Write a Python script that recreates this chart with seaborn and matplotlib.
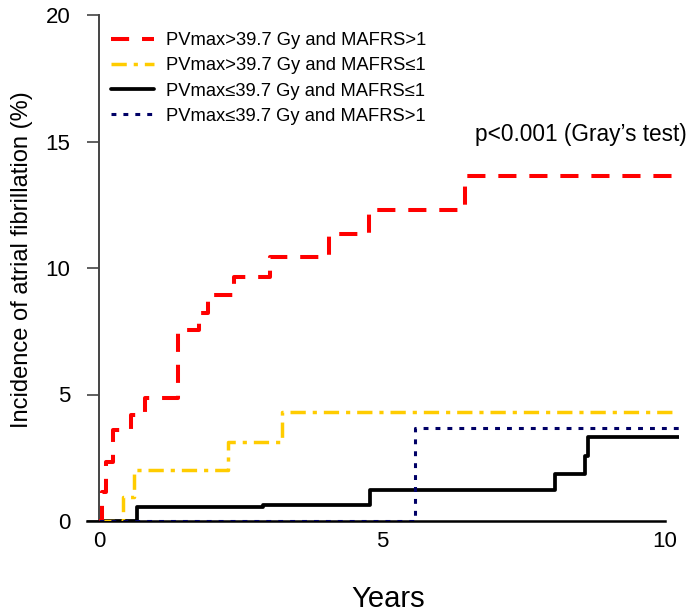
import numpy as np
import pandas as pd
import matplotlib
matplotlib.use("Agg")
import matplotlib.pyplot as plt
import seaborn as sns

# ---- data ----
labels = ["PVmax>39.7 Gy and MAFRS>1",
          "PVmax>39.7 Gy and MAFRS\u22641",
          "PVmax\u226439.7 Gy and MAFRS\u22641",
          "PVmax\u226439.7 Gy and MAFRS>1"]

red_t = [0.0, 0.06, 0.12, 0.24, 0.56, 0.82, 1.40, 1.76, 1.93, 2.38, 3.03, 4.07, 4.78, 6.47, 10.25]
red_y = [0.0, 1.15, 2.33, 3.6, 4.19, 4.86, 7.55, 8.22, 8.93, 9.64, 10.43, 11.34, 12.29, 13.64, 13.64]

yel_t = [0.0, 0.42, 0.61, 2.28, 3.23, 10.25]
yel_y = [0.0, 0.95, 2.0, 3.12, 4.31, 4.31]

blk_t = [0.0, 0.68, 2.89, 4.79, 8.05, 8.59, 8.64, 10.25]
blk_y = [0.0, 0.55, 0.63, 1.22, 1.86, 2.57, 3.33, 3.33]

nav_t = [0.0, 5.58, 10.25]
nav_y = [0.0, 3.66, 3.66]

colors = ["#ff0000", "#ffcc00", "#000000", "#000066"]
styles = [(0, (4.5, 3.2)), (0, (4.4, 2.0, 1.2, 2.0)), "-", (0, (1.6, 2.3))]
widths = [2.9, 2.5, 2.7, 2.2]
zorders = [4, 3, 3, 5]

sns.set_style("white")
plt.rcParams["font.family"] = ["Liberation Sans", "DejaVu Sans"]
plt.rcParams["text.color"] = "black"
plt.rcParams["axes.labelcolor"] = "black"
plt.rcParams["xtick.color"] = "black"
plt.rcParams["ytick.color"] = "black"

W, H = 689, 616
fig = plt.figure(figsize=(W / 100, H / 100), dpi=100)
ax = fig.add_axes([99 / W, 95 / H, 580 / W, 506 / H])

series = [(red_t, red_y), (yel_t, yel_y), (blk_t, blk_y), (nav_t, nav_y)]
handles = {}
for i in [2, 1, 3, 0]:
    t, y = series[i]
    df = pd.DataFrame({"t": t, "y": y})
    sns.lineplot(data=df, x="t", y="y", ax=ax, drawstyle="steps-post",
                 color=colors[i], linestyle=styles[i], linewidth=widths[i],
                 estimator=None, sort=False, label=labels[i], zorder=zorders[i])
    handles[i] = ax.lines[-1]

ax.set_xlim(0, 10.25)
ax.set_ylim(0, 20)
ax.set_xticks([0, 5, 10])
ax.set_yticks([0, 5, 10, 15, 20])
ax.tick_params(axis="both", labelsize=16, labelcolor="black")
ax.tick_params(axis="y", length=9, width=1.2, color="#444444", direction="out",
               left=True, pad=11.5)
ax.tick_params(axis="x", length=0, pad=7)
for s in ["top", "right"]:
    ax.spines[s].set_visible(False)
ax.spines["left"].set_color("#444444")
ax.spines["left"].set_linewidth(1.4)
ax.spines["bottom"].set_color("#000000")
ax.spines["bottom"].set_linewidth(1.8)
ax.spines["bottom"].set_bounds(-0.22, 10)
ax.spines["left"].set_bounds(0, 20)

ax.set_xlabel("")
ax.set_ylabel("")
fig.text(22 / W, 1 - 260 / H, "Incidence of atrial fibrillation (%)", rotation=90,
         fontsize=17, ha="center", va="center", color="black")
fig.text(388 / W, 1 - 599 / H, "Years", fontsize=21, ha="center", va="center",
         color="black")

leg = ax.legend([handles[i] for i in range(4)], labels, loc="upper left",
                bbox_to_anchor=(111 / W, 1 - 32 / H), bbox_transform=fig.transFigure,
                frameon=False, fontsize=13.2, handlelength=2.35, handletextpad=0.65,
                labelspacing=0.45, borderaxespad=0, borderpad=0)
for txt in leg.get_texts():
    txt.set_color("black")

fig.text(687 / W, 1 - 135 / H, "p<0.001 (Gray\u2019s test)", fontsize=16.3,
         ha="right", va="center", color="black")

fig.savefig("out.png", dpi=100)
